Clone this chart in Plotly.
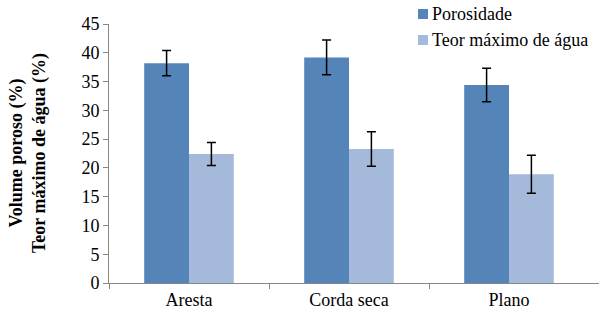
import plotly.graph_objects as go

categories = ["Aresta", "Corda seca", "Plano"]
porosidade = [38.2, 39.2, 34.4]
porosidade_err = [2.2, 3.0, 2.9]
teor_agua = [22.4, 23.3, 18.9]
teor_agua_err = [2.0, 3.0, 3.3]
y_ticks = [0, 5, 10, 15, 20, 25, 30, 35, 40, 45]

FONT = "Liberation Serif, Times New Roman, serif"
AXIS_GRAY = "#868686"
COLOR_POR = "#5585B8"
COLOR_TEOR = "#A5B9DA"

# figure size and plot-area margins in pixels
W, H = 599, 320
L, R, T, B = 109, 0, 24, 37
PW, PH = W - L - R, H - T - B

x_pos = list(range(len(categories)))

fig = go.Figure()
fig.add_trace(go.Bar(
    name="Porosidade", x=x_pos, y=porosidade,
    marker=dict(color=COLOR_POR, line=dict(width=0)),
    error_y=dict(type="data", array=porosidade_err, color="black", thickness=1.5, width=4.5),
))
fig.add_trace(go.Bar(
    name="Teor máximo de água", x=x_pos, y=teor_agua,
    marker=dict(color=COLOR_TEOR, line=dict(width=0)),
    error_y=dict(type="data", array=teor_agua_err, color="black", thickness=1.5, width=4.5),
))


def px_x(px):
    return (px - L) / PW


def px_y(py):
    return (H - B - py) / PH


# legend drawn as swatches + labels in the upper right
legend_items = [("Porosidade", COLOR_POR, 14), ("Teor máximo de água", COLOR_TEOR, 40)]
shapes, annotations = [], []
for label, color, cy in legend_items:
    shapes.append(dict(type="rect", xref="paper", yref="paper",
                       x0=px_x(418), x1=px_x(428), y0=px_y(cy + 5), y1=px_y(cy - 5),
                       fillcolor=color, line=dict(width=0)))
    annotations.append(dict(text=label, xref="paper", yref="paper",
                            x=px_x(430), y=px_y(cy), xanchor="left", yanchor="middle",
                            showarrow=False, font=dict(family=FONT, size=18, color="black")))

# two-line vertical axis title
annotations.append(dict(
    text="<b>Volume poroso (%)<br>Teor máximo de água (%)</b>",
    xref="paper", yref="paper", x=px_x(52), y=px_y(153),
    xanchor="right", yanchor="middle", textangle=-90, showarrow=False,
    font=dict(family=FONT, size=18, color="black"),
))

fig.update_layout(
    width=W, height=H,
    margin=dict(l=L, r=R, t=T, b=B),
    paper_bgcolor="white", plot_bgcolor="white",
    barmode="group", bargap=0.44, bargroupgap=0,
    font=dict(family=FONT, size=18, color="black"),
    showlegend=False,
    shapes=shapes, annotations=annotations,
)
fig.update_xaxes(
    range=[-0.5, -0.5 + PW / 160], tickvals=x_pos, ticktext=categories,
    showline=True, linecolor=AXIS_GRAY, linewidth=1,
    ticks="", showgrid=False, zeroline=False,
    tickfont=dict(family=FONT, size=18),
    minor=dict(tickvals=[-0.5, 0.5, 1.5], ticks="outside", ticklen=5,
               tickcolor=AXIS_GRAY, showgrid=False),
)
fig.update_yaxes(
    range=[0, 45], tickvals=y_ticks,
    showline=True, linecolor=AXIS_GRAY, linewidth=1,
    ticks="outside", ticklen=5, tickcolor=AXIS_GRAY,
    showgrid=False, zeroline=False, tickfont=dict(family=FONT, size=18),
)

fig.write_html("out.html")
